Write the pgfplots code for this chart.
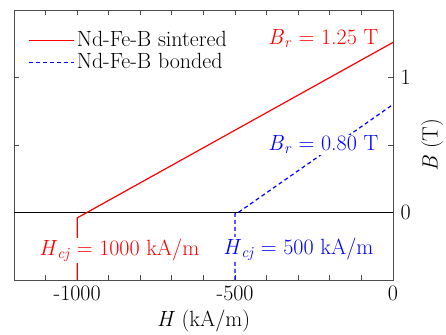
\documentclass[border=0pt]{standalone}
\usepackage{pgfplots}
\pgfplotsset{compat=1.18}
\begin{document}
\begin{tikzpicture}[font=\fontsize{22bp}{26bp}\selectfont]
\begin{axis}[
  scale only axis, width=379bp, height=270bp,
  xmin=-1200, xmax=0, ymin=-0.5, ymax=1.5,
  xtick={-1000,-500,0}, xticklabels={-1000,-500,0},
  minor xtick={-1200,-1100,...,0},
  ytick={0,1}, yticklabels={0,1}, minor ytick={0.5},
  yticklabel pos=right,
  xticklabel style={yshift=-2bp},
  yticklabel style={xshift=4bp},
  tick align=inside, major tick length=5bp, minor tick length=5bp,
  axis line style={draw=black!70, line width=0.9bp},
  tick style={draw=black!70, line width=0.9bp},
  xlabel={\textit{H} (kA/m)}, ylabel={\textit{B} (T)},
  every axis x label/.style={at={(rel axis cs:0.5,0)}, anchor=center, yshift=-41bp},
  every axis y label/.style={at={(rel axis cs:1.103,0.5)}, anchor=center, rotate=90},
  legend style={draw=none, fill=none, at={(0.03,0.935)}, anchor=north west,
    nodes={text height=15bp, text depth=3bp, inner sep=2bp, anchor=west},
    row sep=0bp},
  legend cell align=left,
  legend image code/.code={\draw[#1] (0bp,0bp) -- (45bp,0bp);},
]
\coordinate (sw) at (rel axis cs:0,0);
\addplot[black, line width=1.4bp, forget plot] coordinates {(-1200,0) (0,0)};
\addplot[red, line width=1.2bp] coordinates {(-1000,-0.5) (-1000,-0.04) (0,1.26)};
\addlegendentry{Nd-Fe-B sintered}
\addplot[blue, line width=1.2bp, dash pattern=on 4bp off 3bp] coordinates {(-500,-0.5) (-500,-0.01) (-490,0) (0,0.80)};
\addlegendentry{Nd-Fe-B bonded}
\node[red, fill=white, inner sep=1bp] at (axis cs:-867,-0.28) {\textit{H}\textsubscript{\textit{cj}} = 1000 kA/m};
\node[blue, fill=white, inner sep=1bp] at (axis cs:-300,-0.27) {\textit{H}\textsubscript{\textit{cj}} = 500 kA/m};
\node[red, inner sep=1bp] at (axis cs:-221,1.29) {\textit{B}\textsubscript{\textit{r}} = 1.25 T};
\node[blue, fill=white, inner sep=1bp] at (axis cs:-221,0.50) {\textit{B}\textsubscript{\textit{r}} = 0.80 T};
\end{axis}
\pgfresetboundingbox
\path (sw) ++(-14bp,-55bp) rectangle ++(446bp,335bp);
\end{tikzpicture}
\end{document}
